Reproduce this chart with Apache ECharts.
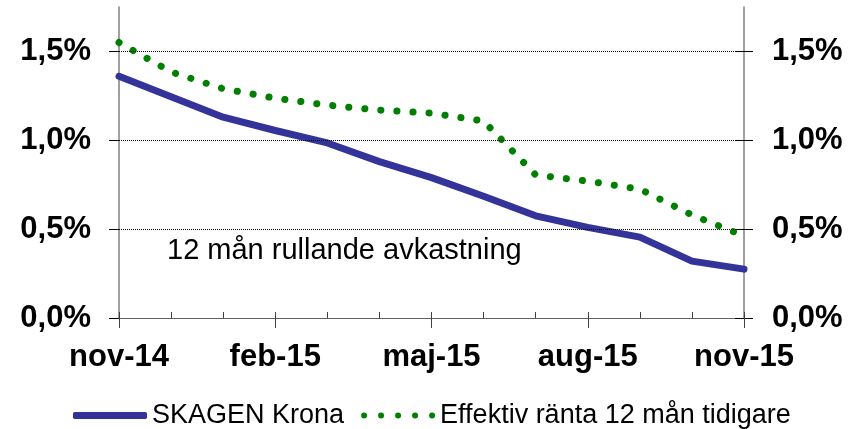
<!DOCTYPE html>
<html>
<head>
<meta charset="utf-8">
<script src="https://cdn.jsdelivr.net/npm/echarts@6/dist/echarts.min.js"></script>
<style>
  html, body { margin: 0; padding: 0; background: #fff; }
  #chart { width: 864px; height: 429px; }
</style>
</head>
<body>
<div id="chart"></div>
<script>
const months = ['nov-14', 'dec-14', 'jan-15', 'feb-15', 'mar-15', 'apr-15', 'maj-15',
  'jun-15', 'jul-15', 'aug-15', 'sep-15', 'okt-15', 'nov-15']
const krona = [1.36, 1.245, 1.13, 1.055, 0.985, 0.88, 0.79, 0.685, 0.575, 0.51, 0.455, 0.32, 0.275]
const effektivRanta = [1.55, 1.385, 1.29, 1.237, 1.198, 1.17, 1.153, 1.108, 0.805, 0.77, 0.725, 0.58, 0.462]
const yTicks = [0, 0.5, 1.0, 1.5]

const font = '"Liberation Sans", Arial, sans-serif'
const axisGray = '#808080'
const fmtPct = v => v.toFixed(1).replace('.', ',') + '%'

// five round dots for the dotted legend entry
const dotsIcon = 'path://' + [3, 20, 37, 54, 71].map(cx =>
  `M${cx - 3},3a3,3 0 1,0 6,0a3,3 0 1,0 -6,0z`).join('')

const chart = echarts.init(document.getElementById('chart'))

const yAxisBase = {
  type: 'value',
  min: 0,
  max: 1.75,
  interval: 0.5,
  splitLine: { show: false }
}

const tickLabel = {
  customValues: yTicks, margin: 28, formatter: fmtPct,
  fontFamily: font, fontSize: 31, fontWeight: 'bold', color: '#000'
}

chart.setOption({
  animation: false,
  backgroundColor: '#fff',
  grid: { left: 119, right: 120, top: 7, bottom: 111, containLabel: false },
  legend: {
    top: 397,
    left: 68,
    itemWidth: 74,
    itemHeight: 7,
    itemGap: 17,
    textStyle: { fontFamily: font, fontSize: 27, color: '#000' },
    data: [
      { name: 'SKAGEN Krona', icon: 'roundRect' },
      { name: 'Effektiv ränta 12 mån tidigare', icon: dotsIcon }
    ]
  },
  graphic: [{
    type: 'text',
    left: 167,
    top: 236,
    style: { text: '12 mån rullande avkastning', font: '29px ' + font, fill: '#000' }
  }],
  xAxis: [{
    type: 'category',
    data: months,
    boundaryGap: false,
    axisLine: { lineStyle: { color: '#606060', width: 1 } },
    axisTick: { interval: 2, length: 10, lineStyle: { color: '#404040' } },
    axisLabel: {
      interval: 2, margin: 24,
      fontFamily: font, fontSize: 31, fontWeight: 'bold', color: '#000'
    }
  }, {
    type: 'category',
    data: months,
    boundaryGap: false,
    position: 'bottom',
    axisLine: { show: false },
    axisTick: { inside: true, interval: 0, length: 6, lineStyle: { color: '#404040' } },
    axisLabel: { show: false }
  }],
  yAxis: [{
    ...yAxisBase,
    position: 'left',
    axisLine: { show: true, lineStyle: { color: axisGray, width: 1.5 } },
    axisTick: { show: true, length: 10, customValues: yTicks, lineStyle: { color: '#000' } },
    axisLabel: tickLabel
  }, {
    ...yAxisBase,
    position: 'right',
    axisLine: { show: true, lineStyle: { color: axisGray, width: 1.5 } },
    axisTick: { show: true, length: 9, customValues: yTicks, lineStyle: { color: '#000' } },
    axisLabel: tickLabel
  }, {
    ...yAxisBase,
    position: 'right',
    axisLine: { show: false },
    axisTick: { show: true, inside: true, length: 9, customValues: yTicks, lineStyle: { color: '#000' } },
    axisLabel: { show: false }
  }],
  series: [{
    name: 'SKAGEN Krona',
    type: 'line',
    data: krona,
    symbol: 'none',
    lineStyle: { color: '#333399', width: 7, cap: 'round' },
    itemStyle: { color: '#333399' },
    markLine: {
      silent: true,
      symbol: 'none',
      label: { show: false },
      lineStyle: { color: '#000', type: [1, 1], width: 1 },
      data: [{ yAxis: 0.5 }, { yAxis: 1.0 }, { yAxis: 1.5 }]
    },
    z: 3
  }, {
    name: 'Effektiv ränta 12 mån tidigare',
    type: 'line',
    data: effektivRanta,
    symbol: 'none',
    lineStyle: { color: '#008000', width: 7, type: [0.1, 16], cap: 'round' },
    itemStyle: { color: '#008000' },
    z: 4
  }]
})
</script>
</body>
</html>
